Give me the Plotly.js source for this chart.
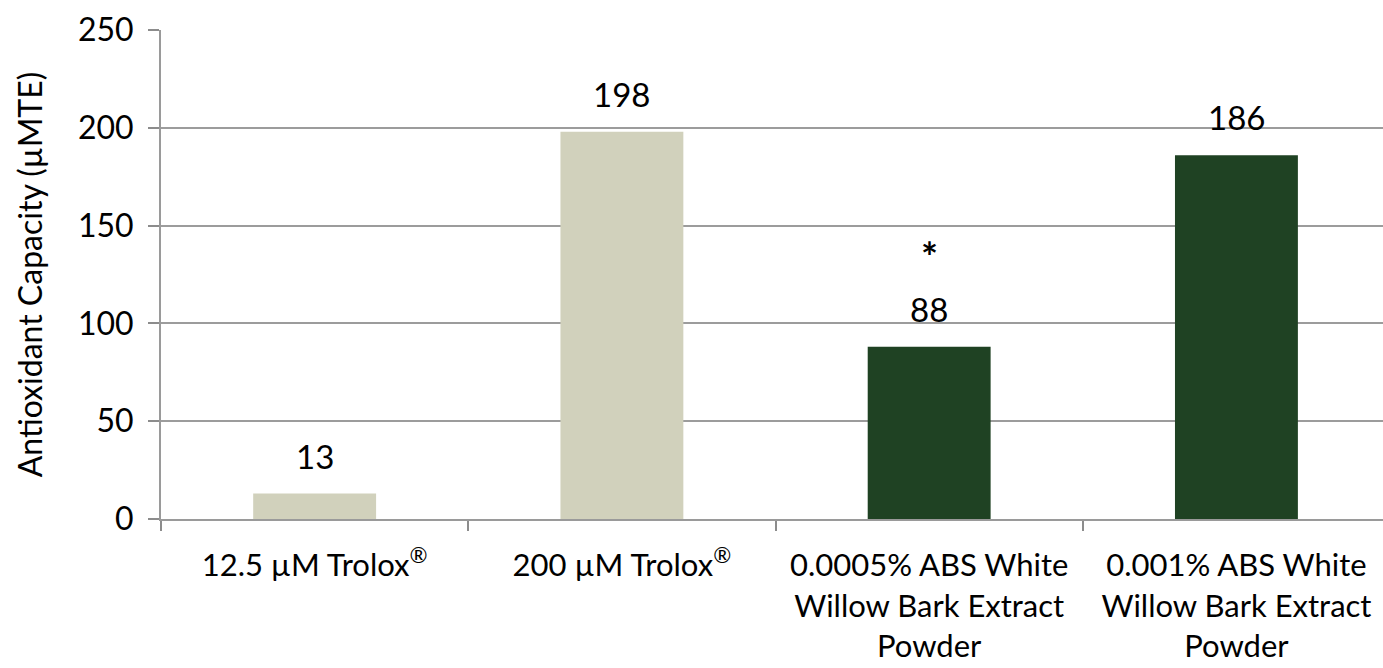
<!DOCTYPE html>
<html><head><meta charset="utf-8">
<script src="https://cdn.plot.ly/plotly-3.0.1.min.js"></script>
<style>html,body{margin:0;padding:0;background:#fff;}#chart{width:1383px;height:668px;}</style>
</head><body><div id="chart"></div>
<script>
const categories = ["12.5 µM Trolox<sup>®</sup>", "200 µM Trolox<sup>®</sup>", "0.0005% ABS White<br>Willow Bark Extract<br>Powder", "0.001% ABS White<br>Willow Bark Extract<br>Powder"];
const values = [13, 198, 88, 186];
const barColors = ["#D1D1BC", "#D1D1BC", "#1F4223", "#1F4223"];
const notes = ["", "", "*", ""];
const yTicks = [0, 50, 100, 150, 200, 250];

const font = "Lato, 'Open Sans', sans-serif";
const annotations = [];
categories.forEach((c, i) => {
  annotations.push({x: c, y: values[i], text: String(values[i]), showarrow: false, yanchor: "bottom", yshift: 16, font: {family: font, size: 33, color: "#000"}});
  if (notes[i]) annotations.push({x: c, y: values[i], text: "<b>" + notes[i] + "</b>", showarrow: false, yanchor: "bottom", yshift: 64, font: {family: font, size: 40, color: "#000"}});
});

Plotly.newPlot("chart", [{
  type: "bar", x: categories, y: values, marker: {color: barColors}, width: 0.4, hoverinfo: "none"
}], {
  width: 1383, height: 668,
  margin: {l: 161, r: 0, t: 30, b: 149},
  paper_bgcolor: "#fff", plot_bgcolor: "#fff",
  showlegend: false,
  font: {family: font, color: "#000"},
  xaxis: {
    type: "category", range: [-0.5, 3.477], tickson: "boundaries", ticks: "outside", ticklen: 10, tickwidth: 2, tickcolor: "#8c8c8c",
    showline: true, linecolor: "#9a9a9a", linewidth: 2, showgrid: false,
    tickfont: {family: font, size: 31, color: "#000"}, ticklabelstandoff: 18, tickangle: 0
  },
  yaxis: {
    range: [0, 250], tickvals: yTicks, ticks: "outside", ticklen: 11, tickwidth: 2, tickcolor: "#8c8c8c",
    showline: true, linecolor: "#9a9a9a", linewidth: 2, showgrid: true, gridcolor: "#9c9c9c", gridwidth: 2, zeroline: false,
    tickfont: {family: font, size: 32, color: "#000"}, ticklabelstandoff: 8,
    title: {text: "Antioxidant Capacity (µMTE)", font: {family: font, size: 32, color: "#000"}, standoff: 26}
  },
  annotations: annotations
}, {staticPlot: true});
</script></body></html>
